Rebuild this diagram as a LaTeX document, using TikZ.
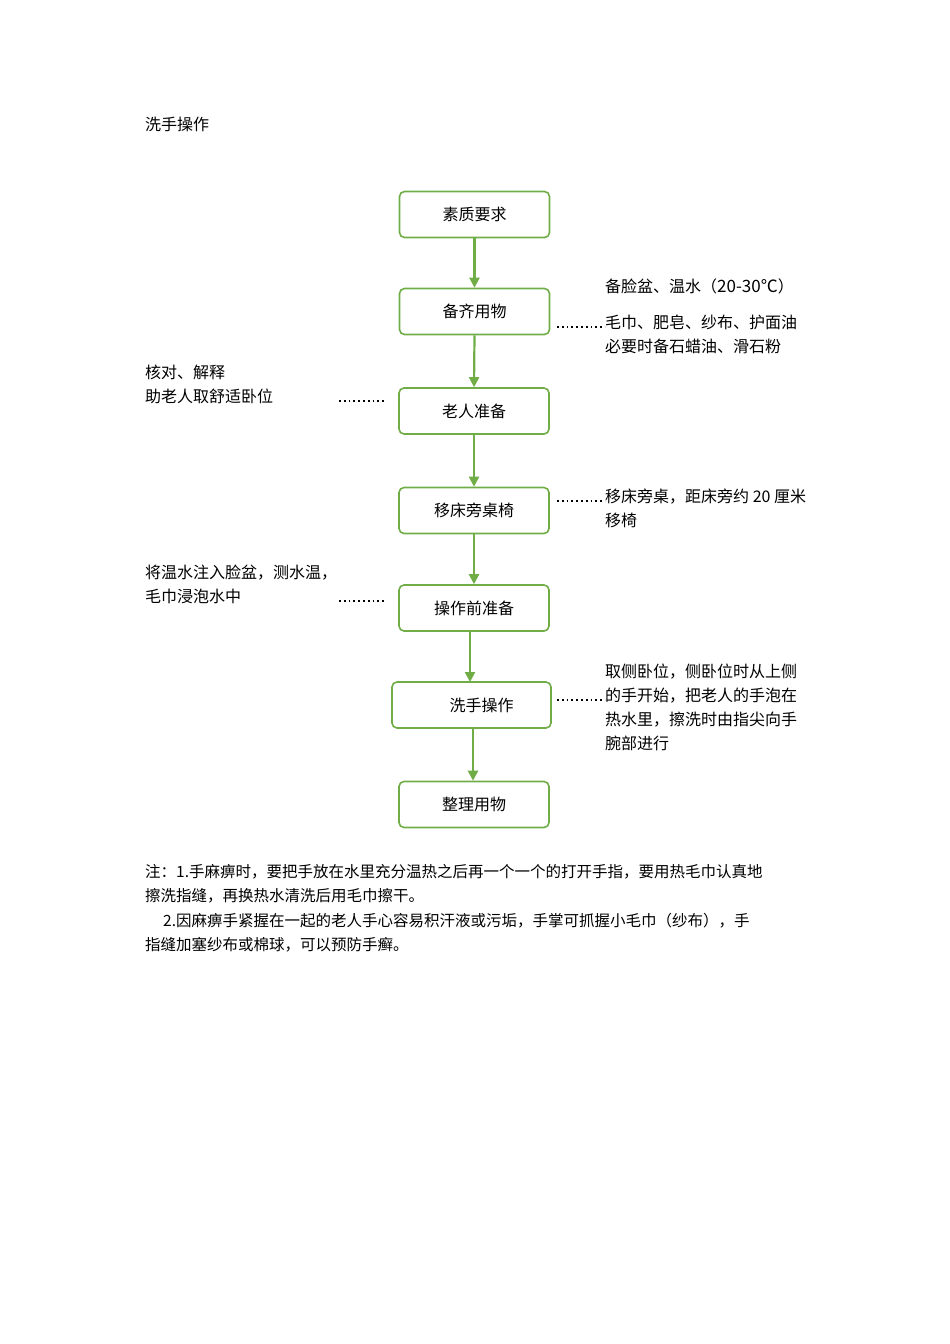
\documentclass[tikz,border=0pt]{standalone}
\usepackage{fontspec}
\setmainfont{Carlito}
\newfontfamily\cjk{Noto Sans CJK SC}
\XeTeXlinebreaklocale "zh"
\XeTeXlinebreakskip=0pt plus 1pt
\usetikzlibrary{arrows.meta}
\definecolor{gr}{HTML}{70AD47}
\tikzset{
 box/.style={draw=gr,line width=1.6pt,rounded corners=5pt,minimum width=150pt,minimum height=46pt,inner sep=0pt,font=\cjk\fontsize{16}{18}\selectfont},
 arr/.style={draw=gr,line width=2.2pt,-{Triangle[length=10pt,width=10pt]}},
 dot/.style={line width=1.8pt,dash pattern=on 1.8pt off 3pt},
 txt/.style={anchor=north west,inner sep=0pt,font=\cjk\fontsize{16}{24}\selectfont,align=left}
}
\begin{document}
\begin{tikzpicture}[x=1pt,y=-1pt]
\useasboundingbox (0,0) rectangle (950,1344);
\node[txt] (title) at (145,117) {洗手操作};
\node[box] (b1) at (474.5,214.5) {素质要求};
\node[box] (b2) at (474.5,311.5) {备齐用物};
\node[box] (b3) at (474,411) {老人准备};
\node[box] (b4) at (474,510.5) {移床旁桌椅};
\node[box] (b5) at (474,608) {操作前准备};
\node[box,minimum width=159pt] (b6) at (471.5,705) {\hspace*{20pt}洗手操作};
\node[box] (b7) at (474,804.5) {整理用物};
\draw[arr] (b1.south) -- (b2.north);
\draw[arr] (b2.south) -- (b3.north);
\draw[arr] (b3.south) -- (b4.north);
\draw[arr] (b4.south) -- (b5.north);
\draw[arr] (b5.south -| 470,0) -- (470,682);
\draw[arr] (b6.south -| 473,0) -- (b7.north -| 473,0);
\node[txt] (t2a) at (605,279) {备脸盆、温水（{\fontsize{17}{24}\selectfont 20-30℃}）};
\node[txt] (t2b) at (605,315) {毛巾、肥皂、纱布、护面油\\必要时备石蜡油、滑石粉};
\coordinate (d2) at (557,327);
\draw[dot] (d2) -- (t2b.west |- d2);
\node[txt] (t3) at (145,365) {核对、解释\\助老人取舒适卧位};
\coordinate (d3) at (339,401);
\draw[dot] (d3) -- (386,401);
\node[txt] (t4) at (605,489) {移床旁桌，距床旁约 20 厘米\\移椅};
\coordinate (d4) at (557,501);
\draw[dot] (d4) -- (t4.west |- d4);
\node[txt] (t5) at (145,565) {将温水注入脸盆，测水温，\\毛巾浸泡水中};
\coordinate (d5) at (339,601);
\draw[dot] (d5) -- (386,601);
\node[txt] (t6) at (605,664) {取侧卧位，侧卧位时从上侧\\的手开始，把老人的手泡在\\热水里，擦洗时由指尖向手\\腕部进行};
\coordinate (d6) at (557,700);
\draw[dot] (d6) -- (t6.west |- d6);
\node[txt,text width=662pt,font=\cjk\fontsize{15.5}{24.5}\selectfont] (note) at (145,864) {\makebox[662pt][s]{注：1.手麻痹时，要把手放在水里充分温热之后再一个一个的打开手指，要用热毛巾认真地}\\擦洗指缝，再换热水清洗后用毛巾擦干。\\\makebox[662pt][s]{\hspace*{18pt}2.因麻痹手紧握在一起的老人手心容易积汗液或污垢，手掌可抓握小毛巾（纱布），手}\\指缝加塞纱布或棉球，可以预防手癣。};
\end{tikzpicture}
\end{document}
